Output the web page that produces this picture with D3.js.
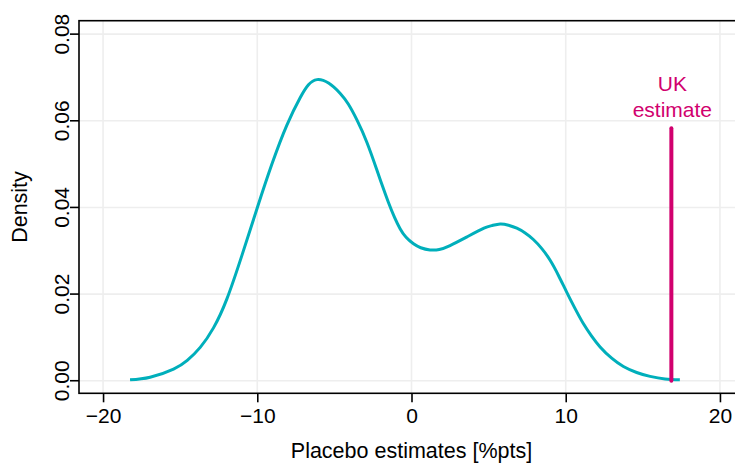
<!DOCTYPE html>
<html>
<head>
<meta charset="utf-8">
<script src="https://cdn.jsdelivr.net/npm/d3@7"></script>
<style>
  html, body { margin: 0; padding: 0; background: #fff; }
  svg { display: block; font-family: "Liberation Sans", Arial, sans-serif; }
</style>
</head>
<body>
<svg id="chart" width="735" height="464"></svg>
<script>
// ---- data ----
const densityX = [-18.25, -16.95, -15.43, -14.54, -13.70, -12.84, -11.97, -10.99, -10.02, -9.05, -8.08, -7.22, -6.68, -6.13, -5.38, -4.62, -4.09, -3.54, -2.89, -2.25, -1.90, -1.50, -1.10, -0.74, -0.35, 0.13, 0.60, 1.20, 1.80, 2.50, 3.60, 4.70, 5.20, 5.75, 6.29, 6.83, 7.37, 7.90, 8.45, 8.99, 9.53, 10.07, 10.60, 11.14, 11.68, 12.23, 12.98, 13.74, 14.60, 15.47, 16.44, 17.40];
const densityY = [0.0002, 0.0008, 0.0027, 0.0047, 0.0077, 0.0122, 0.0189, 0.0290, 0.0397, 0.0500, 0.0590, 0.0653, 0.0683, 0.0695, 0.0687, 0.0663, 0.0638, 0.0602, 0.0550, 0.0487, 0.0451, 0.0412, 0.0377, 0.0351, 0.0331, 0.0316, 0.0307, 0.0302, 0.0303, 0.0312, 0.0332, 0.0352, 0.0358, 0.0362, 0.0359, 0.0352, 0.0341, 0.0326, 0.0305, 0.0278, 0.0243, 0.0204, 0.0167, 0.0132, 0.0103, 0.0078, 0.0052, 0.0033, 0.0019, 0.0010, 0.0004, 0.0002];
const ukEstimate = 16.85;
const ukLineTop = 0.0583;
const xTicks = [-20, -10, 0, 10, 20];
const yTicks = [0.00, 0.02, 0.04, 0.06, 0.08];
const xLabel = "Placebo estimates [%pts]";
const yLabel = "Density";
const ukLabel = ["UK", "estimate"];

// ---- layout ----
const svg = d3.select("#chart");
const mLeft = 79, mRight = 744, mTop = 20.7, mBottom = 393.3;
const x = d3.scaleLinear().domain([-21.56, 21.56]).range([mLeft, mRight]);
const y = d3.scaleLinear().domain([-0.0029, 0.0831]).range([mBottom, mTop]);
const fs = 21, fsTitle = 21.5;
const teal = "#00AFBB", magenta = "#D1006E";

// grid
const g = svg.append("g");
g.selectAll(".gx").data(xTicks).enter().append("line")
  .attr("x1", d => x(d)).attr("x2", d => x(d))
  .attr("y1", mTop).attr("y2", mBottom)
  .attr("stroke", "#EEEEEE").attr("stroke-width", 1.6);
g.selectAll(".gy").data(yTicks).enter().append("line")
  .attr("x1", mLeft).attr("x2", mRight)
  .attr("y1", d => y(d)).attr("y2", d => y(d))
  .attr("stroke", "#EEEEEE").attr("stroke-width", 1.6);

// density curve
const pts = densityX.map((d, i) => [d, densityY[i]]);
const line = d3.line().x(d => x(d[0])).y(d => y(d[1])).curve(d3.curveNatural);
svg.append("path").datum(pts).attr("d", line)
  .attr("fill", "none").attr("stroke", teal).attr("stroke-width", 3);

// UK line
svg.append("line")
  .attr("x1", x(ukEstimate)).attr("x2", x(ukEstimate))
  .attr("y1", y(ukLineTop)).attr("y2", y(0))
  .attr("stroke", magenta).attr("stroke-width", 4).attr("stroke-linecap", "round");
svg.selectAll(".uk").data(ukLabel).enter().append("text")
  .attr("x", x(ukEstimate) + 1).attr("y", (d, i) => 91 + i * 25.5)
  .attr("text-anchor", "middle").attr("font-size", fs).attr("fill", magenta)
  .text(d => d);

// box (top, left, bottom; right side beyond view)
svg.append("rect").attr("x", mLeft).attr("y", mTop)
  .attr("width", mRight - mLeft).attr("height", mBottom - mTop)
  .attr("fill", "none").attr("stroke", "#000").attr("stroke-width", 1.6);

// x axis
const xAxis = d3.axisBottom(x).tickValues(xTicks).tickSize(9).tickPadding(6)
  .tickFormat(d => d3.format("")(d).replace("-", "\u2212"));
const ax = svg.append("g").attr("transform", `translate(0,${mBottom})`).call(xAxis);
ax.select(".domain").remove();
ax.selectAll("line").attr("stroke", "#000").attr("stroke-width", 1.6);
ax.selectAll("text").attr("font-size", fs).attr("font-family", "Liberation Sans, Arial, sans-serif").attr("fill", "#000");

// y axis
const yAxis = d3.axisLeft(y).tickValues(yTicks).tickSize(9).tickPadding(0)
  .tickFormat(d3.format(".2f"));
const ay = svg.append("g").attr("transform", `translate(${mLeft},0)`).call(yAxis);
ay.select(".domain").remove();
ay.selectAll("line").attr("stroke", "#000").attr("stroke-width", 1.6);
ay.selectAll(".tick").attr("transform", null);
ay.selectAll("text").attr("font-size", fs).attr("font-family", "Liberation Sans, Arial, sans-serif").attr("fill", "#000")
  .attr("text-anchor", "middle").attr("dy", null)
  .attr("transform", d => `translate(${-10},${y(d)}) rotate(-90)`)
  .attr("x", 0).attr("y", 0);
ay.selectAll(".tick line").attr("y1", d => y(d)).attr("y2", d => y(d));

// axis titles
svg.append("text").attr("x", (mLeft + mRight) / 2).attr("y", 458)
  .attr("text-anchor", "middle").attr("font-size", fsTitle).attr("fill", "#000").text(xLabel);
svg.append("text").attr("transform", `translate(27,${(mTop + mBottom) / 2}) rotate(-90)`)
  .attr("text-anchor", "middle").attr("font-size", fsTitle).attr("fill", "#000").text(yLabel);
</script>
</body>
</html>
